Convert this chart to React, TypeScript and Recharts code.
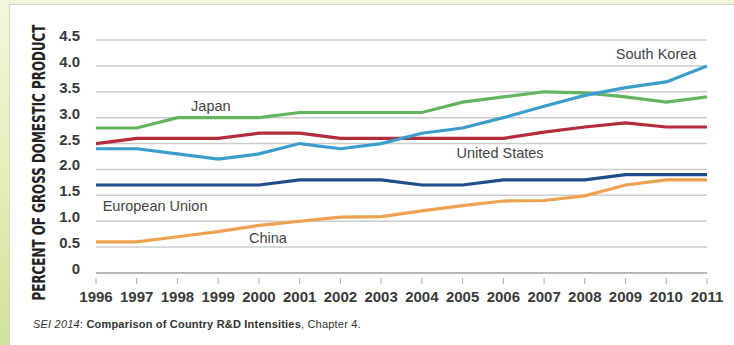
import React from "react";
import { LineChart, Line, XAxis, YAxis, CartesianGrid, ReferenceDot } from "recharts";

const years = [1996, 1997, 1998, 1999, 2000, 2001, 2002, 2003, 2004, 2005, 2006, 2007, 2008, 2009, 2010, 2011];
const japan = [2.8, 2.8, 3.0, 3.0, 3.0, 3.1, 3.1, 3.1, 3.1, 3.3, 3.4, 3.5, 3.48, 3.4, 3.3, 3.4];
const unitedStates = [2.5, 2.6, 2.6, 2.6, 2.7, 2.7, 2.6, 2.6, 2.6, 2.6, 2.6, 2.72, 2.82, 2.9, 2.82, 2.82];
const southKorea = [2.4, 2.4, 2.3, 2.2, 2.3, 2.5, 2.4, 2.5, 2.7, 2.8, 3.0, 3.22, 3.43, 3.58, 3.69, 4.0];
const europeanUnion = [1.7, 1.7, 1.7, 1.7, 1.7, 1.8, 1.8, 1.8, 1.7, 1.7, 1.8, 1.8, 1.8, 1.9, 1.9, 1.9];
const china = [0.6, 0.6, 0.7, 0.8, 0.92, 1.0, 1.08, 1.09, 1.2, 1.3, 1.39, 1.4, 1.49, 1.7, 1.8, 1.8];
const yTicks = [0, 0.5, 1.0, 1.5, 2.0, 2.5, 3.0, 3.5, 4.0, 4.5];
const yTickLabels = ["0", "0.5", "1.0", "1.5", "2.0", "2.5", "3.0", "3.5", "4.0", "4.5"];

const seriesNames = ["japan", "unitedStates", "southKorea", "europeanUnion", "china"];
const seriesColors = ["#62b55e", "#b42b3b", "#3a9dcc", "#1f4c8a", "#eea250"];

const annotationTexts = ["Japan", "South Korea", "United States", "European Union", "China"];
const annotationYears = [1998.82, 2009.75, 2005.92, 1997.45, 2000.22];
const annotationValues = [3.225, 4.23, 2.32, 1.29, 0.68];

const data = years.map((y, i) => ({
  year: y,
  japan: japan[i],
  unitedStates: unitedStates[i],
  southKorea: southKorea[i],
  europeanUnion: europeanUnion[i],
  china: china[i],
}));

const XTick = (props: any) => {
  const { x, y, payload } = props;
  return (
    <g>
      <line x1={x} x2={x} y1={y - 3} y2={y + 3} stroke="#aaaaaa" strokeWidth={1} />
      <text x={x} y={y + 21} textAnchor="middle" fontFamily="'Liberation Sans', Arial, sans-serif" fontWeight="bold" fontSize={15} fill="#3a3a3a">
        {payload.value}
      </text>
    </g>
  );
};

const YTick = (props: any) => {
  const { x, y, payload } = props;
  const idx = yTicks.indexOf(payload.value);
  return (
    <text x={x} y={y + 1} textAnchor="end" fontFamily="'Liberation Sans', Arial, sans-serif" fontWeight="bold" fontSize={15} fill="#3a3a3a">
      {idx >= 0 ? yTickLabels[idx] : payload.value}
    </text>
  );
};

const YLabel = (props: any) => {
  const vb = props.viewBox || { x: 0, y: 40, width: 96, height: 233 };
  const cx = 45;
  const cy = vb.y + vb.height / 2 + 6;
  return (
    <g transform={`translate(${cx} ${cy}) rotate(-90) scale(1.02 1.3)`}>
      <text
        x={0}
        y={0}
        textAnchor="middle"
        fontFamily="'DejaVu Sans Condensed', 'Liberation Sans Narrow', sans-serif"
        fontWeight="bold"
        fontSize={13}
        fill="#222222"
      >
        PERCENT OF GROSS DOMESTIC PRODUCT
      </text>
    </g>
  );
};

const makeAnnotation = (text: string) => (props: any) => {
  const vb = props.viewBox || {};
  const cx = (vb.cx !== undefined ? vb.cx : vb.x);
  const cy = (vb.cy !== undefined ? vb.cy : vb.y);
  return (
    <text x={cx} y={cy + 5} textAnchor="middle" fontFamily="'Liberation Sans', Arial, sans-serif" fontSize={14.5} fill="#444444">
      {text}
    </text>
  );
};

export default function App() {
  return (
    <div style={{ position: "absolute", left: 0, top: 0, width: 734, height: 345, overflow: "hidden", background: "linear-gradient(180deg, #f4f6dc 0%, #e4efb8 50%, #cfe39a 100%)" }}>
      <div style={{ position: "absolute", left: 9, top: 4, width: 725, height: 341, background: "#ffffff", borderTop: "1.5px solid #d4d4d4", borderLeft: "1.5px solid #d4d4d4", boxSizing: "border-box" }} />
      <div style={{ position: "absolute", left: 0, top: 0 }}>
        <LineChart width={734} height={345} data={data} margin={{ top: 40, right: 27, bottom: 0, left: 0 }}>
          <CartesianGrid vertical={false} stroke="#cccccc" strokeWidth={1.5} />
          <XAxis
            dataKey="year"
            type="number"
            domain={[1996, 2011]}
            ticks={years}
            interval={0}
            height={72}
            axisLine={{ stroke: "#aaaaaa", strokeWidth: 1.5 }}
            tickLine={false}
            tick={<XTick />}
          />
          <YAxis
            domain={[0, 4.5]}
            ticks={yTicks}
            interval={0}
            width={96}
            axisLine={false}
            tickLine={false}
            tickMargin={10}
            tick={<YTick />}
            label={{ content: (p: any) => <YLabel {...p} /> }}
          />
          {seriesNames.map((name, i) => (
            <Line
              key={name}
              type="linear"
              dataKey={name}
              stroke={seriesColors[i]}
              strokeWidth={3.2}
              dot={false}
              activeDot={false}
              isAnimationActive={false}
            />
          ))}
          {annotationTexts.map((t, i) => (
            <ReferenceDot
              key={t}
              x={annotationYears[i]}
              y={annotationValues[i]}
              r={0}
              fill="none"
              stroke="none"
              label={{ content: makeAnnotation(t) }}
            />
          ))}
        </LineChart>
      </div>
      <div style={{ position: "absolute", left: 33, top: 318, fontFamily: "'Liberation Sans', Arial, sans-serif", fontSize: 11, color: "#333333", whiteSpace: "nowrap", letterSpacing: 0.2 }}>
        <span style={{ fontStyle: "italic" }}>SEI 2014</span>: <span style={{ fontWeight: "bold" }}>Comparison of Country R&amp;D Intensities</span>, Chapter 4.
      </div>
    </div>
  );
}
